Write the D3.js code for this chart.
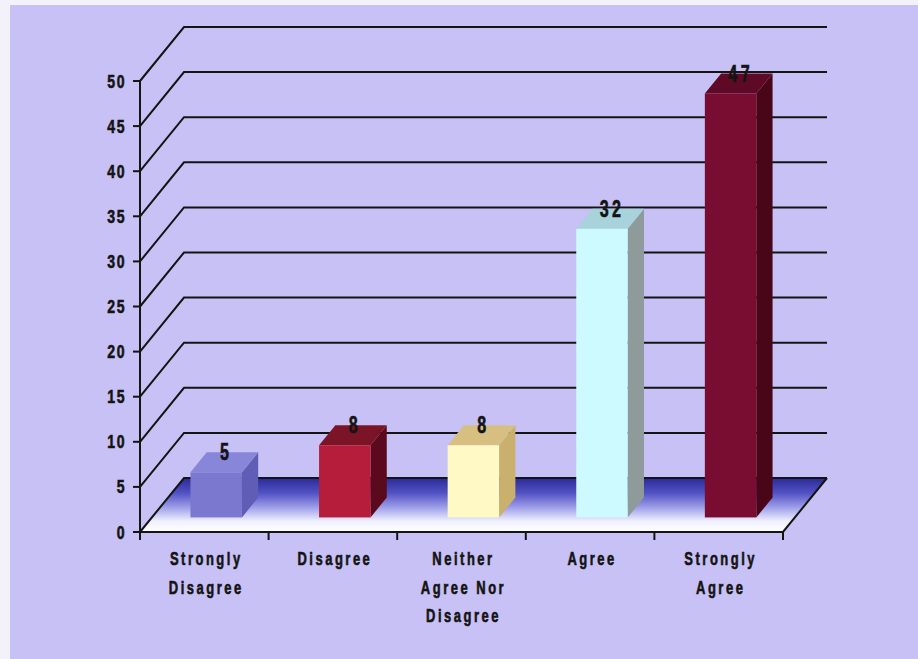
<!DOCTYPE html>
<html>
<head>
<meta charset="utf-8">
<script src="https://cdn.jsdelivr.net/npm/d3@7/dist/d3.min.js"></script>
<style>
  html, body { margin: 0; padding: 0; background: #f3f1fa; }
  svg { display: block; }
  text { font-family: "Liberation Sans", Arial, sans-serif; font-weight: bold; fill: #141414; stroke: #141414; stroke-width: 0.6; }
</style>
</head>
<body>
<svg id="chart" width="918" height="659"></svg>
<script>
// Survey responses
const categories = ["Strongly Disagree", "Disagree", "Neither Agree Nor Disagree", "Agree", "Strongly Agree"];
const categoryLines = [["Strongly", "Disagree"], ["Disagree"], ["Neither", "Agree Nor", "Disagree"], ["Agree"], ["Strongly", "Agree"]];
const values = [5, 8, 8, 32, 47];
const yTicks = [0, 5, 10, 15, 20, 25, 30, 35, 40, 45, 50];

// Face shades per bar: front, top, side
const frontColors = ["#7a78cf", "#b61d3b", "#fff9c6", "#cdfaff", "#790c31"];
const topColors   = ["#8886d9", "#7c1428", "#d6bf80", "#a9d3dc", "#5e0a26"];
const sideColors  = ["#5f5db5", "#5a0a1c", "#c9b06c", "#8f9a9b", "#4a0619"];

const svg = d3.select("#chart");
const W = 918, H = 659;

svg.append("rect").attr("x", 10).attr("y", 5).attr("width", W - 10).attr("height", H - 5).attr("fill", "#c8c1f5");

// Plot geometry: front plane and depth vector of the 3D box
const plotLeft = 140, plotRight = 783;
const y = d3.scaleLinear().domain([0, 50]).range([532, 81]);
const x = d3.scaleBand().domain(categories).range([plotLeft, plotRight]).paddingInner(0.6).paddingOuter(0.3);
const depth = { dx: 44, dy: -54 };
const barOffset = 0.27;   // fraction of depth where the bar front sits
const barDepth = 0.37;    // fraction of depth taken by a bar

const defs = svg.append("defs");
const grad = defs.append("linearGradient").attr("id", "floorGrad")
  .attr("x1", 0).attr("y1", 0).attr("x2", 0).attr("y2", 1);
[[0, "#2a2a96"], [0.28, "#5252c4"], [0.58, "#a9a9ee"], [0.8, "#f0f0ff"], [1, "#ffffff"]]
  .forEach(([o, c]) => grad.append("stop").attr("offset", o).attr("stop-color", c));

const y0 = y(0);

// Floor
svg.append("path")
  .attr("d", `M${plotLeft},${y0} L${plotRight},${y0} L${plotRight + depth.dx},${y0 + depth.dy} L${plotLeft + depth.dx},${y0 + depth.dy} Z`)
  .attr("fill", "url(#floorGrad)");

// Wall gridlines: diagonal on the side wall, horizontal on the back wall
svg.append("g").selectAll("path").data(yTicks).join("path")
  .attr("d", v => `M${plotLeft},${y(v)} L${plotLeft + depth.dx},${y(v) + depth.dy} L${plotRight + depth.dx},${y(v) + depth.dy}`)
  .attr("fill", "none").attr("stroke", "#141414").attr("stroke-width", 2);

// Bars
const fx = depth.dx * barOffset, fy = depth.dy * barOffset;
const ddx = depth.dx * barDepth, ddy = depth.dy * barDepth;
const bw = x.bandwidth();
const bars = svg.append("g").selectAll("g").data(values).join("g");
bars.each(function (v, i) {
  const g = d3.select(this);
  const x0 = x(categories[i]) + fx;
  const bottom = y(0) + fy;
  const top = y(v) + fy;
  g.append("path")
    .attr("d", `M${x0 + bw},${top} L${x0 + bw + ddx},${top + ddy} L${x0 + bw + ddx},${bottom + ddy} L${x0 + bw},${bottom} Z`)
    .attr("fill", sideColors[i]);
  g.append("path")
    .attr("d", `M${x0},${top} L${x0 + bw},${top} L${x0 + bw + ddx},${top + ddy} L${x0 + ddx},${top + ddy} Z`)
    .attr("fill", topColors[i]);
  g.append("rect").attr("x", x0).attr("y", top).attr("width", bw).attr("height", bottom - top)
    .attr("fill", frontColors[i]);
  g.append("text")
    .attr("transform", `translate(${x0 + bw / 2 + ddx / 2 + 2},${top + ddy + 8}) scale(0.7,1)`)
    .attr("text-anchor", "middle")
    .attr("font-size", 23)
    .attr("letter-spacing", 5)
    .text(v);
});

// Front axes
const axis = svg.append("g").attr("stroke", "#141414").attr("stroke-width", 2).attr("fill", "none");
axis.append("path").attr("d", `M${plotLeft},${y(50)} L${plotLeft},${y0 + 8}`);
axis.append("path").attr("d", `M${plotLeft},${y0} L${plotRight},${y0} L${plotRight + depth.dx},${y0 + depth.dy}`);
axis.selectAll(".yt").data(yTicks).join("path").attr("class", "yt")
  .attr("d", v => `M${plotLeft - 7},${y(v)} L${plotLeft},${y(v)}`);
axis.selectAll(".xt").data(d3.range(categories.length + 1)).join("path").attr("class", "xt")
  .attr("d", i => `M${plotLeft + i * x.step()},${y0} L${plotLeft + i * x.step()},${y0 + 8}`);

// Y tick labels
svg.append("g").selectAll("text").data(yTicks).join("text")
  .attr("transform", v => `translate(126,${y(v) + 6.5}) scale(0.78,1)`)
  .attr("text-anchor", "end")
  .attr("font-size", 18)
  .attr("letter-spacing", 2)
  .text(v => v);

// Category labels
svg.append("g").selectAll("g").data(categories).join("g")
  .each(function (c, i) {
    const cx = x(c) + bw / 2 + 2;
    categoryLines[i].forEach((line, k) => {
      d3.select(this).append("text")
        .attr("transform", `translate(${cx},${565 + k * 28.5}) scale(0.72,1)`)
        .attr("text-anchor", "middle")
        .attr("font-size", 18)
        .attr("letter-spacing", 3.5)
        .text(line);
    });
  });
</script>
</body>
</html>
